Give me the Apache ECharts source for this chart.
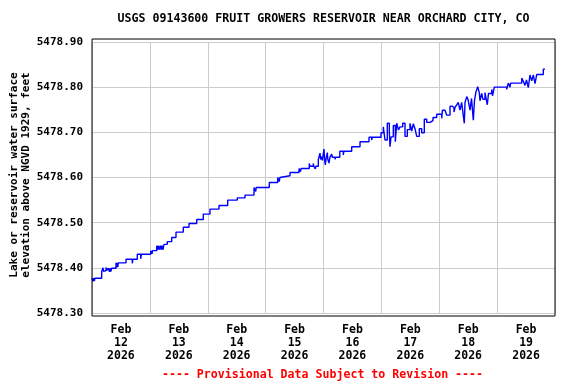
<!DOCTYPE html>
<html>
<head>
<meta charset="utf-8">
<script src="https://cdn.jsdelivr.net/npm/echarts@6/dist/echarts.min.js"></script>
<style>html,body{margin:0;padding:0;background:#fff}#c{width:576px;height:384px}</style>
</head>
<body>
<div id="c"></div>
<script>
const chartTitle = 'USGS 09143600 FRUIT GROWERS RESERVOIR NEAR ORCHARD CITY, CO';
const footerText = '---- Provisional Data Subject to Revision ----';
const yAxisTitle = 'Lake or reservoir water surface\nelevation above NGVD 1929, feet';
const dayLabels = ['Feb\n12\n2026','Feb\n13\n2026','Feb\n14\n2026','Feb\n15\n2026','Feb\n16\n2026','Feb\n17\n2026','Feb\n18\n2026','Feb\n19\n2026'];
const yTicks = [5478.30, 5478.40, 5478.50, 5478.60, 5478.70, 5478.80, 5478.90];
// hours since Feb 12 2026 00:00
const hours = [0,0.4,0.6,1.0,1.2,4.02,4.56,4.8,5.18,5.4,5.81,6.0,6.76,7.26,7.5,7.88,8.1,9.95,10.28,10.5,10.7,10.9,
14.1,16.71,16.95,18.79,20.2,20.45,24.34,24.88,25.1,26.83,27.05,27.58,27.8,28.4,28.65,29.15,29.4,29.86,31.23,33.05,34.83,37.86,40.22,43.42,46.16,48.93,52.67,56.27,60.25,63.45,67.18,67.89,68.1,
73.52,77.0,77.67,77.9,78.38,82.11,85.84,86.46,86.7,90.11,90.35,91.77,92.0,92.6,92.85,93.85,94.55,94.8,95.25,95.5,96.21,96.45,96.75,97.0,97.58,97.8,98.28,98.5,98.7,99.4,99.65,100.77,101.0,102.76,104.21,104.45,
107.69,111.14,114.87,115.99,116.2,119.85,120.8,121.5,122.46,123.29,123.58,124.0,124.95,125.78,126.36,127.1,127.72,128.84,129.8,130.75,131.87,132.58,133.24,133.94,134.65,135.73,136.72,137.8,138.8,140.17,141.41,142.94,
145.02,145.3,146.39,147.09,148.46,149.29,150.12,150.54,151.24,151.9,152.6,153.31,153.85,154.39,154.68,155.39,155.93,156.47,156.76,157.38,158.13,158.6,159.24,159.94,160.6,160.9,161.6,162.14,162.97,163.67,163.92,164.42,165.05,165.76,166.09,166.84,
171.97,172.2,172.63,173.34,173.6,178.19,178.85,179.56,180.18,180.93,181.63,182.34,183.0,183.71,184.41,187.15,187.85];
const elevation = [5478.377,5478.370,5478.377,5478.371,5478.377,5478.392,5478.400,5478.392,5478.388,5478.394,5478.401,5478.394,5478.399,5478.391,5478.399,5478.392,5478.399,5478.411,5478.401,5478.411,5478.402,5478.411,
5478.419,5478.410,5478.419,5478.430,5478.420,5478.430,5478.438,5478.431,5478.438,5478.449,5478.440,5478.449,5478.440,5478.449,5478.440,5478.449,5478.440,5478.452,5478.458,5478.467,5478.479,5478.490,5478.498,5478.507,5478.519,5478.530,5478.538,5478.550,5478.555,5478.561,5478.578,5478.569,5478.578,
5478.589,5478.600,5478.591,5478.600,5478.604,5478.611,5478.620,5478.613,5478.620,5478.631,5478.625,5478.631,5478.625,5478.619,5478.625,5478.640,5478.654,5478.640,5478.646,5478.638,5478.663,5478.640,5478.628,5478.640,5478.655,5478.640,5478.632,5478.640,5478.645,5478.652,5478.645,5478.640,5478.645,5478.658,5478.650,5478.658,
5478.668,5478.679,5478.689,5478.683,5478.689,5478.699,5478.712,5478.683,5478.720,5478.700,5478.668,5478.690,5478.715,5478.679,5478.720,5478.705,5478.712,5478.720,5478.691,5478.706,5478.720,5478.703,5478.719,5478.708,5478.691,5478.708,5478.699,5478.729,5478.722,5478.726,5478.733,5478.740,
5478.731,5478.749,5478.747,5478.738,5478.758,5478.755,5478.745,5478.755,5478.761,5478.766,5478.749,5478.766,5478.742,5478.720,5478.766,5478.779,5478.773,5478.777,5478.749,5478.775,5478.727,5478.770,5478.790,5478.801,5478.788,5478.770,5478.786,5478.773,5478.788,5478.788,5478.761,5478.786,5478.786,5478.795,5478.781,5478.800,
5478.795,5478.800,5478.809,5478.800,5478.809,5478.820,5478.813,5478.804,5478.816,5478.799,5478.827,5478.814,5478.827,5478.808,5478.828,5478.840,5478.840];

const seriesData = hours.map((h, i) => [h, elevation[i]]);
const mono = 'DejaVu Sans Mono';
const chart = echarts.init(document.getElementById('c'), null, {renderer: 'canvas'});
chart.setOption({
  animation: false,
  backgroundColor: '#ffffff',
  grid: [
    {left: 92, right: 21, top: 42, bottom: 71, containLabel: false},
    {left: 92, right: 21, top: 39, bottom: 68, show: true, borderColor: '#000', borderWidth: 1, backgroundColor: 'transparent', z: 10}
  ],
  xAxis: [
    {type: 'value', gridIndex: 0, min: 0, max: 192, interval: 24,
     axisLine: {show: false}, axisTick: {show: false}, axisLabel: {show: false},
     splitLine: {show: true, lineStyle: {color: '#cccccc', width: 1}}},
    {type: 'category', gridIndex: 0, data: dayLabels, boundaryGap: true, position: 'bottom',
     axisLine: {show: false}, axisTick: {show: false}, splitLine: {show: false},
     axisLabel: {margin: 11, color: '#000', fontFamily: mono, fontWeight: 'bold', fontSize: 11.5, lineHeight: 12.8, interval: 0}},
    {type: 'value', gridIndex: 1, min: 0, max: 1, show: false}
  ],
  yAxis: [
    {type: 'value', gridIndex: 0, min: yTicks[0], max: yTicks[yTicks.length - 1], interval: 0.1,
     axisLine: {show: false}, axisTick: {show: false},
     axisLabel: {margin: 9, color: '#000', fontFamily: mono, fontWeight: 'bold', fontSize: 11,
       formatter: v => v.toFixed(2)},
     splitLine: {show: true, lineStyle: {color: '#cccccc', width: 1}}},
    {type: 'value', gridIndex: 1, min: 0, max: 1, show: false}
  ],
  series: [{
    type: 'line', xAxisIndex: 0, yAxisIndex: 0, data: seriesData, step: 'end',
    showSymbol: false, symbol: 'none', lineStyle: {color: '#0000ff', width: 1.4}, z: 5
  }],
  graphic: [
    {type: 'text', x: 323.5, y: 19, style: {text: chartTitle, textAlign: 'center', textVerticalAlign: 'middle',
      fontFamily: mono, fontWeight: 'bold', fontSize: 11.6, fill: '#000'}},
    {type: 'text', x: 322.5, y: 375, style: {text: footerText, textAlign: 'center', textVerticalAlign: 'middle',
      fontFamily: mono, fontWeight: 'bold', fontSize: 11.6, fill: '#ff0000'}},
    {type: 'text', x: 20, y: 175, rotation: Math.PI / 2, style: {text: yAxisTitle, textAlign: 'center', textVerticalAlign: 'middle',
      fontFamily: mono, fontWeight: 'bold', fontSize: 11, fill: '#000', lineHeight: 12}}
  ]
});
</script>
</body>
</html>
